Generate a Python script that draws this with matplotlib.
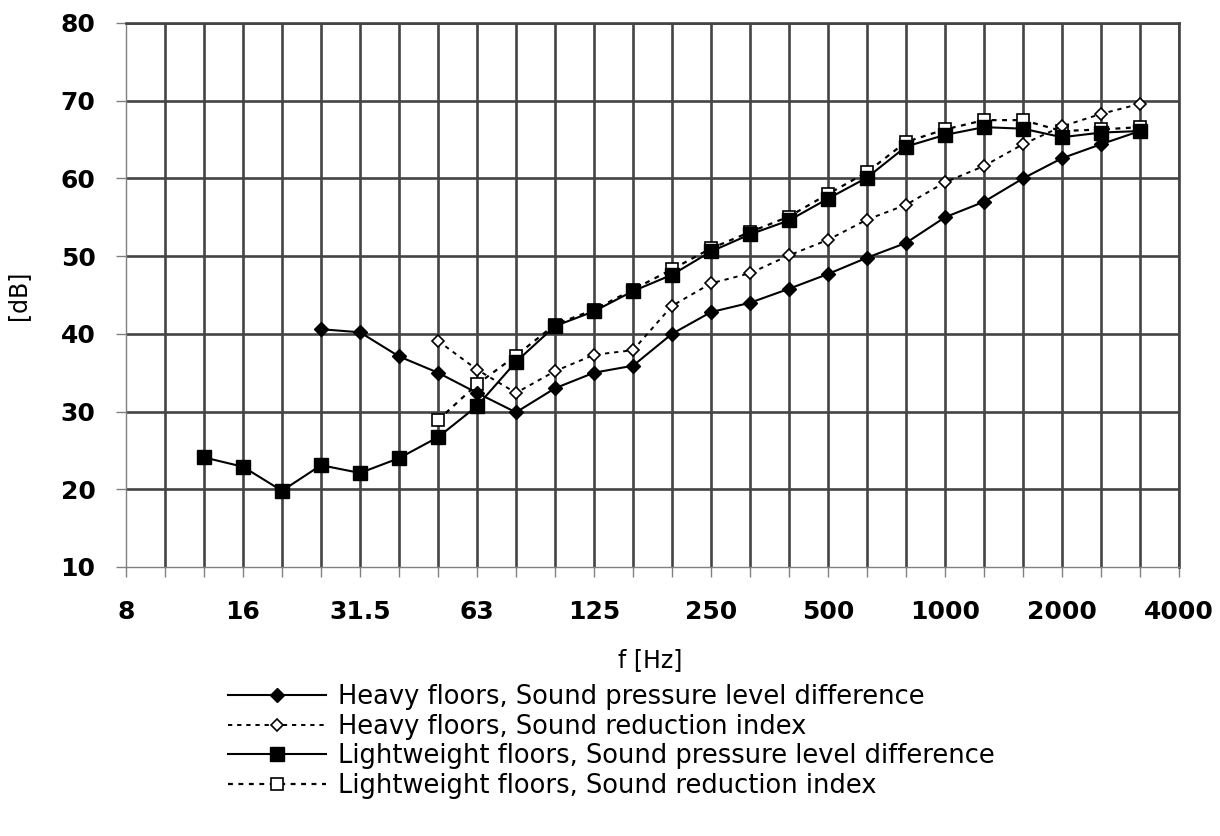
# floor sound insulation vs frequency (third-octave bands)
import numpy as np
import matplotlib
matplotlib.use('Agg')
import matplotlib.pyplot as plt

# third-octave band centre frequencies
bandas = ['8', '10', '12.5', '16', '20', '25', '31.5', '40', '50', '63', '80', '100',
          '125', '160', '200', '250', '315', '400', '500', '630', '800', '1000',
          '1250', '1600', '2000', '2500', '3150', '4000']
etiquetas = ['8', '', '', '16', '', '', '31.5', '', '', '63', '', '', '125', '', '',
             '250', '', '', '500', '', '', '1000', '', '', '2000', '', '', '4000']

nan = np.nan
# Heavy floors, sound pressure level difference (from 25 Hz)
heavy_spl = [nan, nan, nan, nan, nan, 40.6, 40.2, 37.1, 35.0, 32.4, 29.9, 33.0, 35.0,
             35.9, 40.0, 42.8, 44.0, 45.8, 47.7, 49.8, 51.7, 55.0, 57.0, 60.0, 62.6,
             64.4, 66.1, nan]
# Heavy floors, sound reduction index (from 50 Hz)
heavy_sri = [nan, nan, nan, nan, nan, nan, nan, nan, 39.1, 35.4, 32.4, 35.2, 37.3,
             37.9, 43.6, 46.5, 47.8, 50.1, 52.1, 54.7, 56.6, 59.5, 61.6, 64.4, 66.7,
             68.3, 69.6, nan]
# Lightweight floors, sound pressure level difference (from 12.5 Hz)
light_spl = [nan, nan, 24.1, 22.9, 19.8, 23.1, 22.1, 24.0, 26.7, 30.7, 36.4, 41.0, 42.9,
             45.5, 47.6, 50.6, 52.8, 54.6, 57.4, 60.1, 64.1, 65.6, 66.6, 66.4, 65.3,
             65.9, 66.1, nan]
# Lightweight floors, sound reduction index (from 50 Hz)
light_sri = [nan, nan, nan, nan, nan, nan, nan, nan, 28.9, 33.5, 37.2, 41.2, 43.1,
             45.7, 48.3, 51.0, 53.1, 55.1, 58.0, 60.8, 64.7, 66.3, 67.5, 67.5, 66.1,
             66.3, 66.6, nan]

x = np.arange(len(bandas))

fig = plt.figure(figsize=(12.2, 8.36), dpi=100)
ax = fig.add_axes([126 / 1220, 1 - 567 / 836, 1053 / 1220, 544 / 836])

guion = (0, (2.2, 2.5))
l1, = ax.plot(x, heavy_spl, color='black', lw=1.5, marker='D', ms=7,
              mfc='black', mec='black', zorder=5,
              label='Heavy floors, Sound pressure level difference')
l2, = ax.plot(x, heavy_sri, color='black', lw=1.4, ls=guion, marker='D', ms=6.5,
              mfc='white', mec='black', mew=1.2, zorder=4,
              label='Heavy floors, Sound reduction index')
l3, = ax.plot(x, light_spl, color='black', lw=1.5, marker='s', ms=9.5,
              mfc='black', mec='black', zorder=6,
              label='Lightweight floors, Sound pressure level difference')
l4, = ax.plot(x, light_sri, color='black', lw=1.6, ls=guion, marker='s', ms=9,
              mfc='white', mec='black', mew=1.2, zorder=3,
              label='Lightweight floors, Sound reduction index')

ax.set_xlim(0, len(bandas) - 1)
ax.set_ylim(10, 80)
ax.set_xticks(x)
ax.set_xticklabels(etiquetas)
ax.set_yticks(np.arange(10, 81, 10))

# grid
ax.set_axisbelow(True)
ax.grid(True, color='#444444', lw=1.9)
ax.xaxis.get_gridlines()[0].set_visible(False)
ax.yaxis.get_gridlines()[0].set_visible(False)

for lado in ['left', 'bottom']:
    ax.spines[lado].set_color('#808080')
    ax.spines[lado].set_linewidth(1.0)
for lado in ['top', 'right']:
    ax.spines[lado].set_color('#444444')
    ax.spines[lado].set_linewidth(1.9)

ax.tick_params(axis='x', direction='out', length=7, width=1, color='#808080',
               pad=17, labelsize=18)
ax.tick_params(axis='y', direction='out', length=7, width=1, color='#808080',
               pad=15, labelsize=18)
for t in ax.get_xticklabels() + ax.get_yticklabels():
    t.set_fontweight('bold')

ax.set_xlabel('f [Hz]', fontsize=17)
ax.set_ylabel('[dB]', fontsize=17)
ax.xaxis.set_label_coords(0.4976, -0.149)
ax.yaxis.set_label_coords(-0.0912, 0.5)

fig.legend(handles=[l1, l2, l3, l4], loc='upper left',
           bbox_to_anchor=(228 / 1220, 1 - 684 / 836), frameon=False,
           fontsize=18.5, handlelength=3.8, handletextpad=0.5,
           labelspacing=0.14, borderpad=0, borderaxespad=0)

fig.savefig('out.png', dpi=100, facecolor='white')
